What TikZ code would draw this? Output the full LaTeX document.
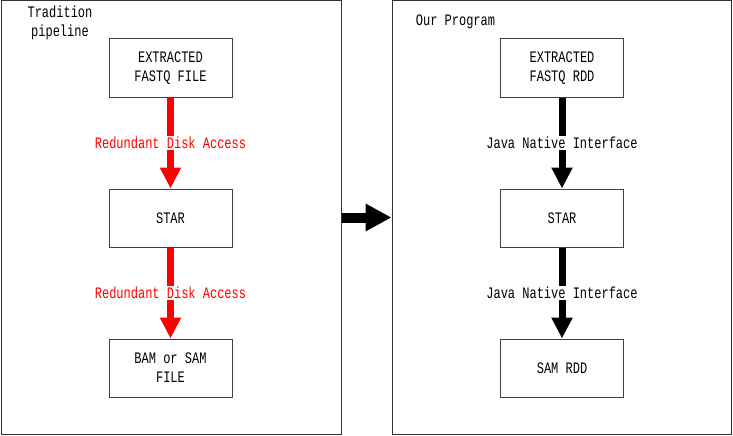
\documentclass[tikz,border=0pt]{standalone}
\usepackage{fontspec}
\setmonofont[FakeStretch = 0.75]{Liberation Mono}
\usetikzlibrary{arrows.meta}

\begin{document}
\begin{tikzpicture}[x = 1pt, y = -1pt, % one unit per pixel, y downwards
                font = \ttfamily\fontsize{16}{19}\selectfont,
                node distance = 150pt, % distance between boxes
                semithick % line style
            ]

            \useasboundingbox (0,0) rectangle (733,436);

            \tikzstyle{frame}=[draw = black!80, line width = 1pt, rectangle,
            minimum width = 340pt, minimum height = 433pt, inner sep = 0pt]
            \tikzstyle{stepbox}=[draw = black!75, line width = 1pt, rectangle,
            minimum width = 123pt, minimum height = 58pt, align = center]
            \tikzstyle{disk}=[red, line width = 7pt,
            -{Triangle[width = 20pt, length = 21pt]}]
            \tikzstyle{jni}=[black, line width = 7pt,
            -{Triangle[width = 20pt, length = 21pt]}]
            \tikzstyle{tag}=[fill = white, inner sep = 1pt]

            \node[frame] (trad) at (171,217.5) {}; \node[frame, minimum width
            = 339pt] (prog) at (561.5,217.5) {};
            \node[align = center] (tradtitle) at (60,23) {Tradition\\pipeline};
            \node (progtitle) at (455.5,22) {Our Program};

            \node[stepbox] (fastq) at (170.5,68) {EXTRACTED\\FASTQ FILE};
            \node[stepbox] (star) [below of=fastq] {STAR}; \node[stepbox]
            (bam) [below of=star] {BAM or SAM\\FILE};

            \node[stepbox] (rdd) at (562,68) {EXTRACTED\\FASTQ RDD};
            \node[stepbox] (star2) [below of=rdd] {STAR}; \node[stepbox]
            (sam) [below of=star2] {SAM RDD};

            \path[disk] (fastq) edge node[tag, text = red] {Redundant Disk
            Access} (star); \path[disk] (star) edge node[tag, text = red]
            {Redundant Disk Access} (bam);
            \path[jni] (rdd) edge node[tag] {Java Native Interface} (star2);
            \path[jni] (star2) edge node[tag] {Java Native Interface} (sam);

            \draw[line width = 10pt, -{Triangle[width = 26pt, length = 26pt]}]
            (trad.east) -- (prog.west);\end{tikzpicture}
\end{document}
